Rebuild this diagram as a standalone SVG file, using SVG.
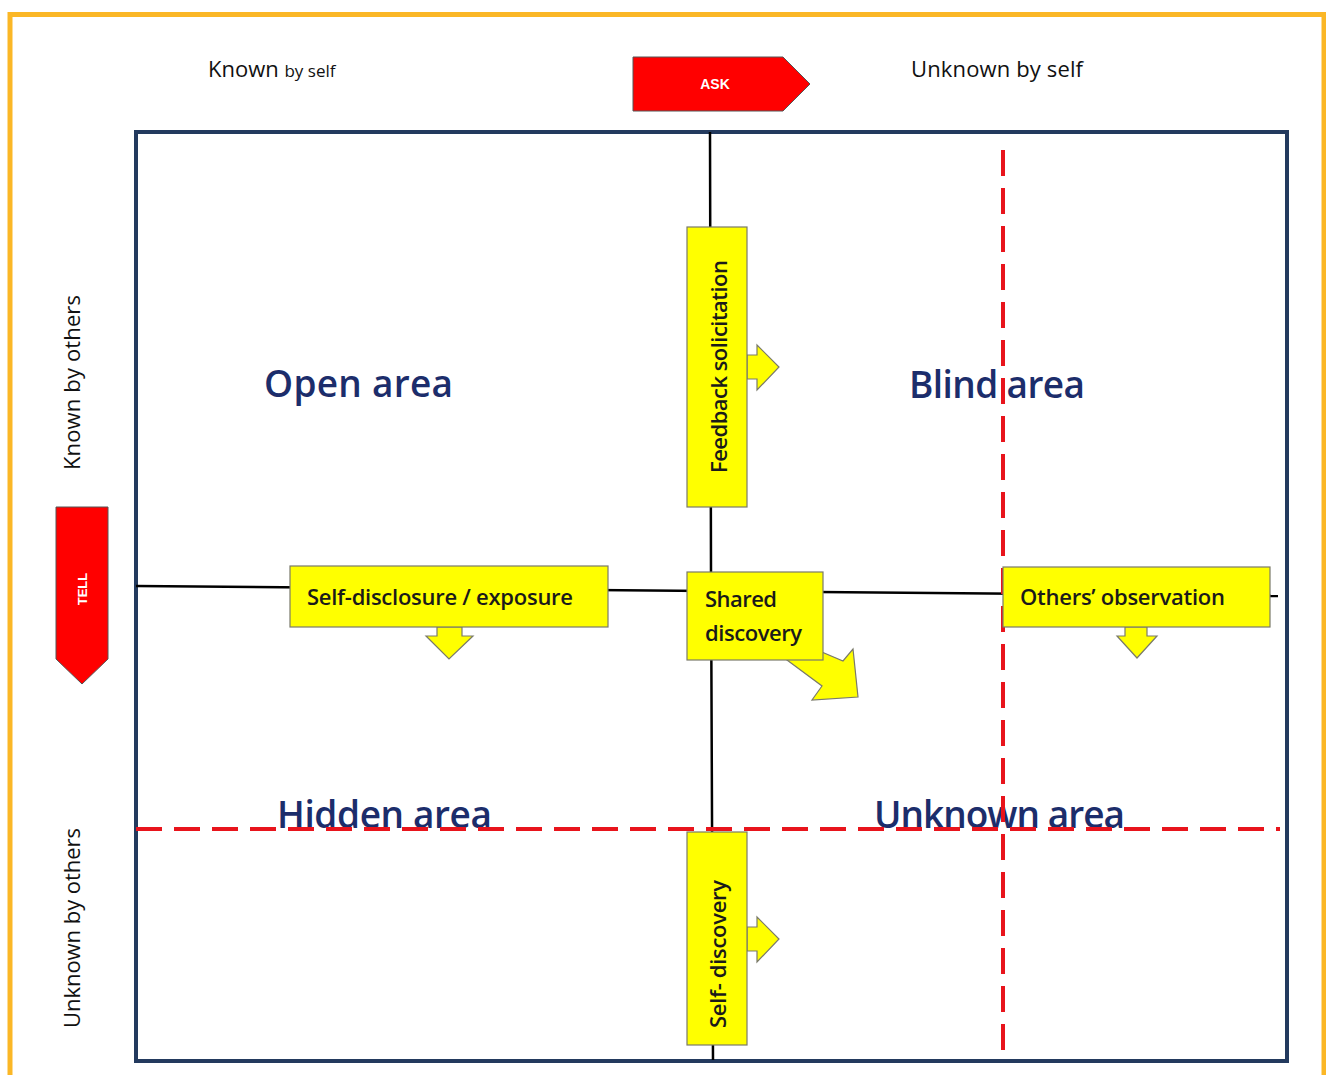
<svg xmlns="http://www.w3.org/2000/svg" width="1326" height="1075" viewBox="0 0 1326 1075">
<style>
.lbl{font-family:"Open Sans","Liberation Sans",Arial,sans-serif;font-weight:500;fill:#111;}
.title{font-family:"Open Sans","Liberation Sans",Arial,sans-serif;font-weight:600;fill:#1c2d6b;font-size:37px;}
.box{fill:#ffff00;stroke:#7a7a6a;stroke-width:1.2;}
.boxtxt{font-family:"Open Sans","Liberation Sans",Arial,sans-serif;font-weight:600;fill:#1a1a1a;font-size:22px;}
.redarrow{fill:#ff0000;stroke:#555;stroke-width:1;}
.wt{font-family:"Liberation Sans",Arial,sans-serif;fill:#fff;font-weight:bold;}
.dash{stroke:#e8141c;stroke-width:4;stroke-dasharray:26 12;fill:none;}
.axis{stroke:#000;stroke-width:2.5;fill:none;}
</style>
<rect width="1326" height="1075" fill="#fff"/>
<path d="M10,1080 V14.5 H1324 V1080" fill="none" stroke="#fbb726" stroke-width="5"/>

<g id="header-known-self"><text class="lbl" x="208" y="77" font-size="22">Known <tspan font-size="17">by self</tspan></text></g>
<g id="header-unknown-self"><text class="lbl" x="911" y="77" font-size="22" textLength="172">Unknown by self</text></g>
<g id="side-known-others"><text class="lbl" transform="translate(80,470) rotate(-90)" font-size="22" textLength="175">Known by others</text></g>
<g id="side-unknown-others"><text class="lbl" transform="translate(80,1028) rotate(-90)" font-size="22" textLength="200">Unknown by others</text></g>

<g id="ask">
<polygon class="redarrow" points="633,57 783,57 810,84 783,111 633,111"/>
<text class="wt" x="715" y="89" font-size="14" text-anchor="middle">ASK</text>
</g>
<g id="tell">
<polygon class="redarrow" points="56,507 108,507 108,659 82,684 56,659"/>
<text class="wt" transform="translate(87,589) rotate(-90)" font-size="13" text-anchor="middle">TELL</text>
</g>

<g id="frame">
<rect x="136" y="132" width="1151" height="929" fill="none" stroke="#233a5e" stroke-width="4"/>
</g>

<g id="connectors">
<polyline class="axis" points="710,132 711,572 713,1060"/>
<line class="axis" x1="136" y1="586" x2="1278" y2="596"/>
</g>

<g id="titles">
<text class="title" x="264" y="397" textLength="189">Open area</text>
<text class="title" x="909" y="398" textLength="176">Blind area</text>
<text class="title" x="277" y="828" textLength="215">Hidden area</text>
<text class="title" x="874" y="828" textLength="251">Unknown area</text>
</g>

<g id="dividers">
<line class="dash" x1="1003" y1="150" x2="1003" y2="1060"/>
<line class="dash" x1="136" y1="829" x2="1280" y2="829"/>
</g>

<g id="feedback-solicitation">
<polygon class="box" points="747,355 757,355 757,345 779,367 757,390 757,379 747,379"/>
<rect class="box" x="687" y="227" width="60" height="280"/>
<text class="boxtxt" transform="translate(727,473) rotate(-90)" textLength="213">Feedback solicitation</text>
</g>

<g id="self-disclosure">
<polygon class="box" points="437,627 437,636 426,636 449,659 473,636 462,636 462,627"/>
<rect class="box" x="290" y="566" width="318" height="61"/>
<text class="boxtxt" x="307" y="605" textLength="266">Self-disclosure / exposure</text>
</g>

<g id="shared-discovery">
<polygon class="box" points="770,630 843,661 853,649 858,697 812,700 822,686 760,640"/>
<rect class="box" x="687" y="572" width="136" height="88"/>
<text class="boxtxt" x="705" y="607" textLength="72">Shared</text>
<text class="boxtxt" x="705" y="641" textLength="97">discovery</text>
</g>

<g id="others-observation">
<polygon class="box" points="1125,627 1125,636 1117,636 1137,658 1157,636 1147,636 1147,627"/>
<rect class="box" x="1003" y="567" width="267" height="60"/>
<text class="boxtxt" x="1020" y="605" textLength="205">Others’ observation</text>
</g>

<g id="self-discovery">
<polygon class="box" points="747,927 757,927 757,917 779,939 757,962 757,951 747,951"/>
<rect class="box" x="687" y="832" width="60" height="213"/>
<text class="boxtxt" transform="translate(726,1028) rotate(-90)" textLength="148">Self- discovery</text>
</g>
</svg>
